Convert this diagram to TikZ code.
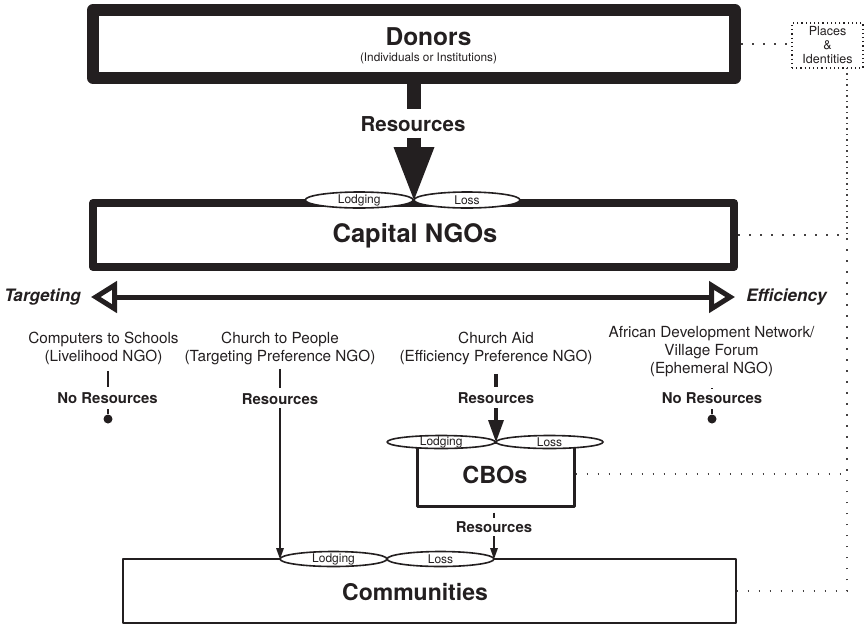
\documentclass[tikz,border=0pt]{standalone}
\usepackage{fontspec}
\setmainfont{TeX Gyre Heros}
\usetikzlibrary{shapes.geometric,arrows.meta,calc}
\definecolor{ink}{HTML}{231F20}
\begin{document}
\begin{tikzpicture}[x=1pt,y=-1pt,
  every node/.style={text=ink},
  frame/.style={draw=ink, rectangle, inner sep=0pt, line join=round},
  ell/.style={draw=ink, ellipse, fill=white, inner sep=0pt, line width=1.6pt},
  ellbl/.style={font=\fontsize{12}{12}\selectfont, inner sep=0pt},
  coltext/.style={align=center, font=\fontsize{15.3}{18}\selectfont},
  reslbl/.style={font=\fontsize{14.9}{16}\selectfont\bfseries},
  axislbl/.style={font=\fontsize{17.1}{18}\selectfont\bfseries\itshape},
  thinline/.style={draw=ink, line width=1.8pt},
  dotline/.style={draw=ink!85, line width=1.5pt, dash pattern=on 1.5pt off 9.5pt},
  smallhead/.style={-{Triangle[length=11pt,width=8pt,line width=0pt]}},
  dotend/.style={circle, fill=ink, inner sep=0pt, minimum size=9pt},
  axisarrow/.style={draw=ink, line width=5pt, {Triangle[open,length=26pt,width=31pt]}-{Triangle[open,length=26pt,width=31pt]}},
]
\useasboundingbox (0,0) rectangle (867,625);

% Donors
\node[frame, line width=12pt, minimum width=642pt, minimum height=68pt] (donors) at (414,44) {};
\node[font=\fontsize{24.5}{25}\selectfont\bfseries] (donT) at (428.5,37) {Donors};
\node[font=\fontsize{11.8}{12}\selectfont] (donS) at (428.5,58) {(Individuals or Institutions)};

% Places & Identities
\node[draw=ink, line width=1.2pt, dash pattern=on 1.2pt off 3pt, minimum width=71pt, minimum height=45pt,
      inner sep=0pt, align=center, font=\fontsize{12.5}{14}\selectfont] (places) at (827.5,45.5) {Places\\\&\\Identities};
\coordinate (pv) at (847,68);

% Capital NGOs
\node[frame, line width=8pt, minimum width=641pt, minimum height=64pt] (capital) at (413.5,235) {};
\node[font=\fontsize{25.5}{26}\selectfont\bfseries] (capT) at (415,236) {Capital NGOs};
\node[ell, minimum width=108pt, minimum height=16pt, label={[ellbl]center:Lodging}] (lodg1) at (359.2,200) {};
\node[ell, minimum width=106pt, minimum height=16pt, label={[ellbl]center:Loss}] (loss1) at (467,200) {};

% big resources arrow
\node[font=\fontsize{20.5}{21}\selectfont\bfseries] (res0) at (413,124.5) {Resources};
\draw[draw=ink, line width=14pt, shorten >=4pt] (donors.south) -- (donors.south |- res0.north);
\draw[draw=ink, line width=14pt, shorten <=2pt, -{Triangle[length=53pt,width=41pt,line width=0pt]}] (res0.south -| lodg1.east) -- (lodg1.east);

% Targeting / Efficiency axis
\node[axislbl] (targ) at (42.5,297) {Targeting};
\node[axislbl] (eff) at (786.5,297) {Efficiency};
\coordinate (tL) at (91,297);
\coordinate (tR) at (735,297);
\draw[axisarrow] (tL) -- (tR);

% NGO columns
\node[coltext] (col1) at (103.5,348) {Computers to Schools\\(Livelihood NGO)};
\node[coltext] (col2) at (280,348) {Church to People\\(Targeting Preference NGO)};
\node[coltext] (col3) at (496,348) {Church Aid\\(Efficiency Preference NGO)};
\node[coltext] (col4) at (711.5,352) {African Development Network/\\Village Forum\\(Ephemeral NGO)};

\node[reslbl] (nr1) at (107.5,398) {No Resources};
\node[reslbl] (res2) at (280,399) {Resources};
\node[reslbl] (res3) at (496,398) {Resources};
\node[reslbl] (nr4) at (712,398) {No Resources};
\node[dotend] (dot1) at (108,419) {};
\node[dotend] (dot4) at (712,419) {};

\draw[thinline, shorten <=3pt, shorten >=2pt] (col1.south -| dot1) -- (nr1.north -| dot1);
\draw[thinline, shorten <=2pt] (nr1.south -| dot1) -- (dot1);
\draw[thinline, shorten <=8pt, shorten >=1pt] (col4.south -| dot4) -- (nr4.north -| dot4);
\draw[thinline, shorten <=2pt] (nr4.south -| dot4) -- (dot4);
\draw[thinline, shorten <=1pt, shorten >=2pt] (col2) -- (res2);
\draw[draw=ink, line width=4pt, shorten <=6pt, shorten >=2pt] (col3) -- (res3);

% CBOs
\node[frame, line width=3pt, minimum width=157pt, minimum height=64pt] (cbos) at (495.5,474) {};
\node[font=\fontsize{23.5}{24}\selectfont\bfseries] (cboT) at (495,475) {CBOs};
\node[ell, minimum width=108pt, minimum height=13pt, label={[ellbl]center:Lodging}] (lodg2) at (441.2,442) {};
\node[ell, minimum width=107pt, minimum height=13pt, label={[ellbl]center:Loss}] (loss2) at (549.5,442) {};
\draw[draw=ink, line width=4pt, shorten <=1pt, -{Triangle[length=22pt,width=16pt,line width=0pt]}] (res3.south) -- (lodg2.east);

\node[reslbl] (res5) at (494,527) {Resources};
\draw[draw=ink, line width=1.5pt, shorten <=5pt] (cbos.south -| res5.north) -- (res5.north);

% Communities
\node[frame, line width=1.3pt, minimum width=613pt, minimum height=64pt] (comm) at (429.5,591) {};
\node[font=\fontsize{23}{24}\selectfont\bfseries] (comT) at (415,592) {Communities};
\node[ell, minimum width=107pt, minimum height=15pt, label={[ellbl]center:Lodging}] (lodg3) at (333.5,559) {};
\node[ell, minimum width=107pt, minimum height=15pt, label={[ellbl]center:Loss}] (loss3) at (440.5,559) {};
\draw[draw=ink, line width=1.5pt, smallhead] (res2.south) -- (res2.south |- lodg3.west);
\draw[draw=ink, line width=1.5pt, smallhead] (res5.south) -- (res5.south |- loss3.east);

% dotted links to Places & Identities
\draw[dotline] (donors.east) -- (donors.east -| places.west);
\draw[dotline] (capital.east) -| (pv);
\draw[dotline] (cbos.east) -| (pv);
\draw[dotline] (comm.east) -| (pv);
\end{tikzpicture}
\end{document}
